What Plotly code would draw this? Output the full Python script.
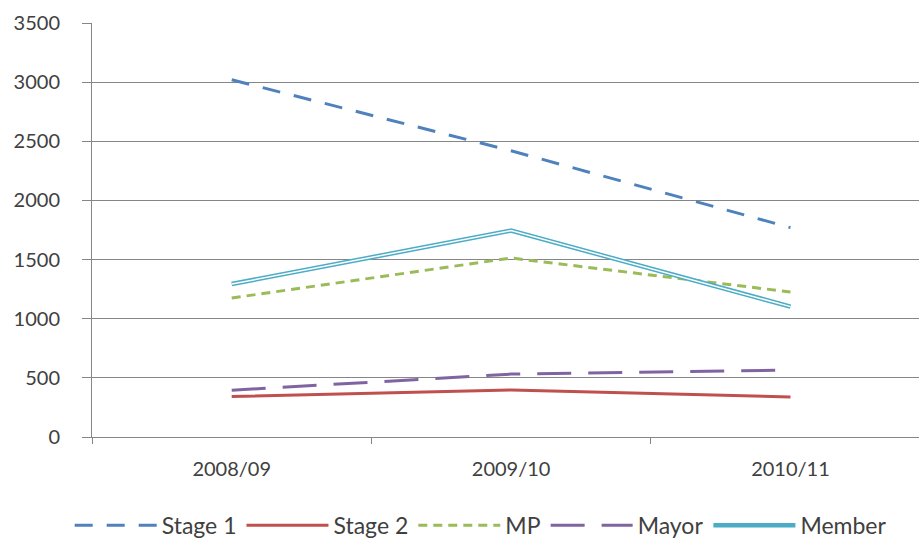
import plotly.graph_objects as go

categories = ["2008/09", "2009/10", "2010/11"]
stage1 = [3020, 2420, 1770]
stage2 = [342, 398, 338]
mp = [1175, 1513, 1226]
mayor = [395, 532, 566]
member = [1293, 1745, 1102]
y_ticks = [0, 500, 1000, 1500, 2000, 2500, 3000, 3500]

fig = go.Figure()
fig.add_trace(go.Scatter(x=categories, y=stage1, mode="lines", name="Stage 1",
                         line=dict(color="#4F81BD", width=3, dash="18px,14px")))
fig.add_trace(go.Scatter(x=categories, y=stage2, mode="lines", name="Stage 2",
                         line=dict(color="#C0504D", width=3)))
fig.add_trace(go.Scatter(x=categories, y=mp, mode="lines", name="MP",
                         line=dict(color="#9BBB59", width=3, dash="9px,6px")))
fig.add_trace(go.Scatter(x=categories, y=mayor, mode="lines", name="Mayor",
                         line=dict(color="#8064A2", width=3, dash="34px,17px")))
fig.add_trace(go.Scatter(x=categories, y=member, mode="lines", name="Member",
                         line=dict(color="#4BACC6", width=4.5)))
fig.add_trace(go.Scatter(x=categories, y=member, mode="lines", name="Member",
                         showlegend=False, hoverinfo="skip",
                         line=dict(color="white", width=1.5)))

fam = "Lato, Open Sans, Liberation Sans, sans-serif"
font = dict(family=fam, size=20, color="#404040")

fig.update_layout(
    width=919, height=542,
    margin=dict(l=92, r=0, t=23, b=105, autoexpand=False),
    plot_bgcolor="white", paper_bgcolor="white",
    font=font,
    showlegend=True,
    legend=dict(orientation="h", x=0.47, xanchor="center",
                yref="container", y=0.031, yanchor="middle",
                font=dict(family=fam, size=23, color="#404040"), itemwidth=82,
                tracegroupgap=0, bgcolor="rgba(0,0,0,0)"),
    xaxis=dict(type="category", range=[-0.5, 2.46], tickson="boundaries",
               ticks="outside", ticklen=6, tickcolor="#868686",
               showline=True, linecolor="#868686", linewidth=1,
               showgrid=False, tickfont=dict(family=fam, size=20, color="#404040"),
               ticklabelstandoff=14),
    yaxis=dict(range=[0, 3500], tickvals=y_ticks, ticks="outside", ticklen=9,
               tickcolor="#868686", showline=True, linecolor="#868686", linewidth=1,
               showgrid=True, gridcolor="#868686", gridwidth=1, zeroline=False,
               tickfont=dict(family=fam, size=20, color="#404040"),
               ticklabelstandoff=18),
)

fig.write_html("out.html")
